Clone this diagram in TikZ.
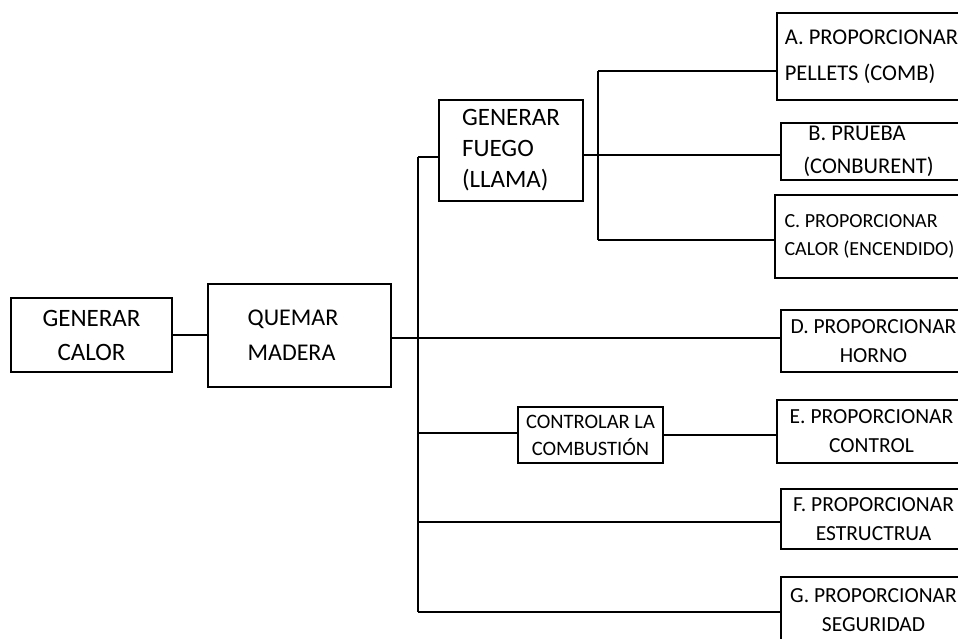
\documentclass[tikz,border=0pt]{standalone}
\usepackage{fontspec}
\setmainfont{Carlito}
\begin{document}
\begin{tikzpicture}[x=1pt,y=-1pt,
  box/.style={draw,line width=2.8pt,rectangle,inner sep=1pt,font=\fontsize{21.5}{29}\selectfont,align=center},
  conn/.style={line width=2.8pt},
  thin/.style={line width=2pt}]
\useasboundingbox (0,0) rectangle (958,639);
\clip (0,0) rectangle (958,639);
\fill[white] (0,0) rectangle (958,639);
% left boxes
\node[box,font=\fontsize{25}{34}\selectfont,minimum width=161pt,minimum height=74pt] (calor) at (91.5,335) {GENERAR\\CALOR};
\node[box,font=\fontsize{24}{35}\selectfont,minimum width=183pt,minimum height=103pt,align=left] (quemar) at (299.5,335.5) {QUEMAR\\MADERA\hspace*{16pt}};
\node[box,font=\fontsize{25}{31}\selectfont,minimum width=144pt,minimum height=101pt,align=left] (fuego) at (511,150.5) {GENERAR\\FUEGO\\(LLAMA)\hspace*{4pt}};
\node[box,font=\fontsize{20.5}{27}\selectfont,line width=2.2pt,minimum width=145pt,minimum height=56pt] (ctrl) at (590.5,435) {CONTROLAR LA\\COMBUSTIÓN};
% right boxes (their right sides lie beyond the picture edge)
\node[box,minimum width=189pt,minimum height=87pt,align=left,font=\fontsize{22.5}{36}\selectfont] (A) at (871.5,56.5) {A. PROPORCIONAR\\PELLETS (COMB)};
\node[box,minimum width=185pt,minimum height=57pt,align=left,font=\fontsize{22.5}{33}\selectfont] (B) at (873.5,151.5) {\hspace*{5pt}B. PRUEBA\\(CONBURENT)\hspace*{10pt}};
\node[box,minimum width=189pt,minimum height=83pt,align=left,font=\fontsize{20}{28}\selectfont] (C) at (869.5,236.5) {C. PROPORCIONAR\\CALOR (ENCENDIDO)};
\node[box,minimum width=185pt,minimum height=62pt] (D) at (873.5,341) {D. PROPORCIONAR\\HORNO};
\node[box,minimum width=189pt,minimum height=63pt] (E) at (871.5,431.5) {E. PROPORCIONAR\\CONTROL};
\node[box,minimum width=185pt,minimum height=60pt] (F) at (873.5,519) {F. PROPORCIONAR\\ESTRUCTRUA};
\node[box,minimum width=185pt,minimum height=66pt] (G) at (873.5,610) {G. PROPORCIONAR\\SEGURIDAD};
% connectors
\draw[conn] (calor.east) -- (calor.east -| quemar.west);
\coordinate (qD) at (391,338);
\draw[conn] (qD) -- (qD -| D.west);
\coordinate (tTop) at (418,157);
\coordinate (tCtrl) at (418,433);
\coordinate (tF) at (418,522);
\coordinate (tBot) at (418,612);
\draw[conn] (tTop) -- (tBot);
\draw[conn] (tTop) -- (tTop -| fuego.west);
\draw[thin] (tCtrl) -- (tCtrl -| ctrl.west);
\draw[conn] (ctrl.east) -- (ctrl.east -| E.west);
\draw[conn] (tF) -- (tF -| F.west);
\draw[thin] (tBot) -- (tBot -| G.west);
\coordinate (fB) at (583,155);
\draw[conn] (fB) -- (fB -| B.west);
\coordinate (sA) at (598,71);
\coordinate (sC) at (598,240);
\draw[thin] (sA) -- (sC);
\draw[thin] (sA) -- (sA -| A.west);
\draw[thin] (sC) -- (sC -| C.west);
\end{tikzpicture}
\end{document}
